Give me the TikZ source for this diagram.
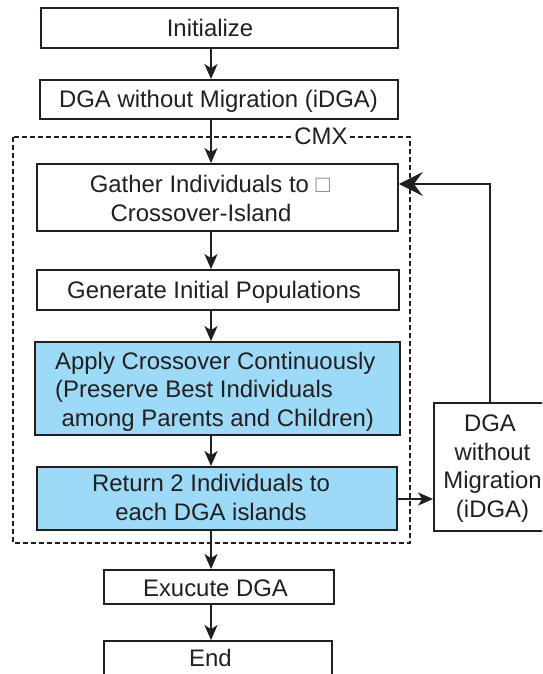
\documentclass[tikz,border=0pt]{standalone}
\usepackage{fontspec}
\setmainfont{Liberation Sans}
\usetikzlibrary{arrows.meta}
\definecolor{ink}{RGB}{35,31,32}
\definecolor{skyfill}{RGB}{157,218,247}
\begin{document}
\begin{tikzpicture}[x=1pt,y=-1pt,
  box/.style={draw=ink, line width=1.8pt, fill=white, inner sep=0pt, minimum width=#1},
  bluebox/.style={box=#1, fill=skyfill},
  txt/.style={anchor=base, inner sep=0pt, text=ink, font=\fontsize{23.9}{28}\selectfont},
  txtl/.style={txt, anchor=base west},
  arr/.style={draw=ink, line width=2.2pt, -{Stealth[length=15pt,width=13pt,inset=4pt]}},
  bigarr/.style={draw=ink, line width=1.6pt, -{Stealth[length=24pt,width=24pt,inset=9pt]}},
  cmxline/.style={draw=ink, line width=1.5pt, dash pattern=on 5pt off 3pt}
]
\path[use as bounding box, clip] (0,0) rectangle (542,674);

% dashed CMX frame
\draw[cmxline] (13,137) rectangle (410,543);
\node[txt, fill=white, inner xsep=2pt, inner ysep=1pt] (cmx) at (321,144) {CMX};

% boxes
\node[box=357pt, minimum height=40pt] (init) at (219.5,28) {};
\node[box=358pt, minimum height=39pt] (dga) at (219,99.5) {};
\node[box=361pt, minimum height=67pt] (gather) at (217.5,197.5) {};
\node[box=362pt, minimum height=40pt] (gen) at (218,290) {};
\node[bluebox=365pt, minimum height=93pt] (apply) at (217.5,388.5) {};
\node[bluebox=360pt, minimum height=63pt] (ret) at (217,498.5) {};
\node[box=116pt, minimum height=128pt] (idga) at (492,467) {};
\node[box=230pt, minimum height=34pt] (exec) at (219,587) {};
\node[box=228pt, minimum height=49pt] (fin) at (218,665.5) {};

% texts
\node[txt] (tinit) at (210,36.7) {Initialize};
\node[txt] (tdga) at (218.5,108) {DGA without Migration (iDGA)};
\node[txt] (tg1) at (210,192.7) {Gather Individuals to {\color{ink!55}□}};
\node[txt] (tg2) at (201,221.7) {Crossover-Island};
\node[txt] (tgen) at (214,298) {Generate Initial Populations};
\node[txtl] (ta1) at (55,369) {Apply Crossover Continuously};
\node[txtl] (ta2) at (55,397.7) {(Preserve Best Individuals};
\node[txtl] (ta3) at (61.5,426.7) {among Parents and Children)};
\node[txt] (tr1) at (211,491.7) {Return 2 Individuals to};
\node[txt] (tr2) at (211,520) {each DGA islands};
\node[txt] (ti1) at (490,431.5) {DGA};
\node[txt] (ti2) at (492.5,460) {without};
\node[txt] (ti3) at (492.5,488.5) {Migration};
\node[txt] (ti4) at (492.5,517) {(iDGA)};
\node[txt] (texec) at (215.5,596.7) {Exucute DGA};
\node[txt] (tend) at (210.5,666.7) {End};

% connector helpers
\coordinate (ax) at (211,0);
\coordinate (fb) at (490,0);
\coordinate (fy) at (0,184);
\coordinate (ry) at (0,499);

% main flow
\draw[arr] (init.south -| ax) -- (dga.north -| ax);
\draw[arr] (dga.south -| ax) -- (gather.north -| ax);
\draw[arr] (gather.south -| ax) -- (gen.north -| ax);
\draw[arr] (gen.south -| ax) -- (apply.north -| ax);
\draw[arr] (apply.south -| ax) -- (ret.north -| ax);
\draw[arr] (ret.south -| ax) -- (exec.north -| ax);
\draw[arr] (exec.south -| ax) -- (fin.north -| ax);

% side loop
\draw[arr] (ret.east |- ry) -- (idga.west |- ry);
\draw[bigarr] (fb |- idga.north) -- (fb |- fy) -- (gather.east |- fy);
\end{tikzpicture}
\end{document}
